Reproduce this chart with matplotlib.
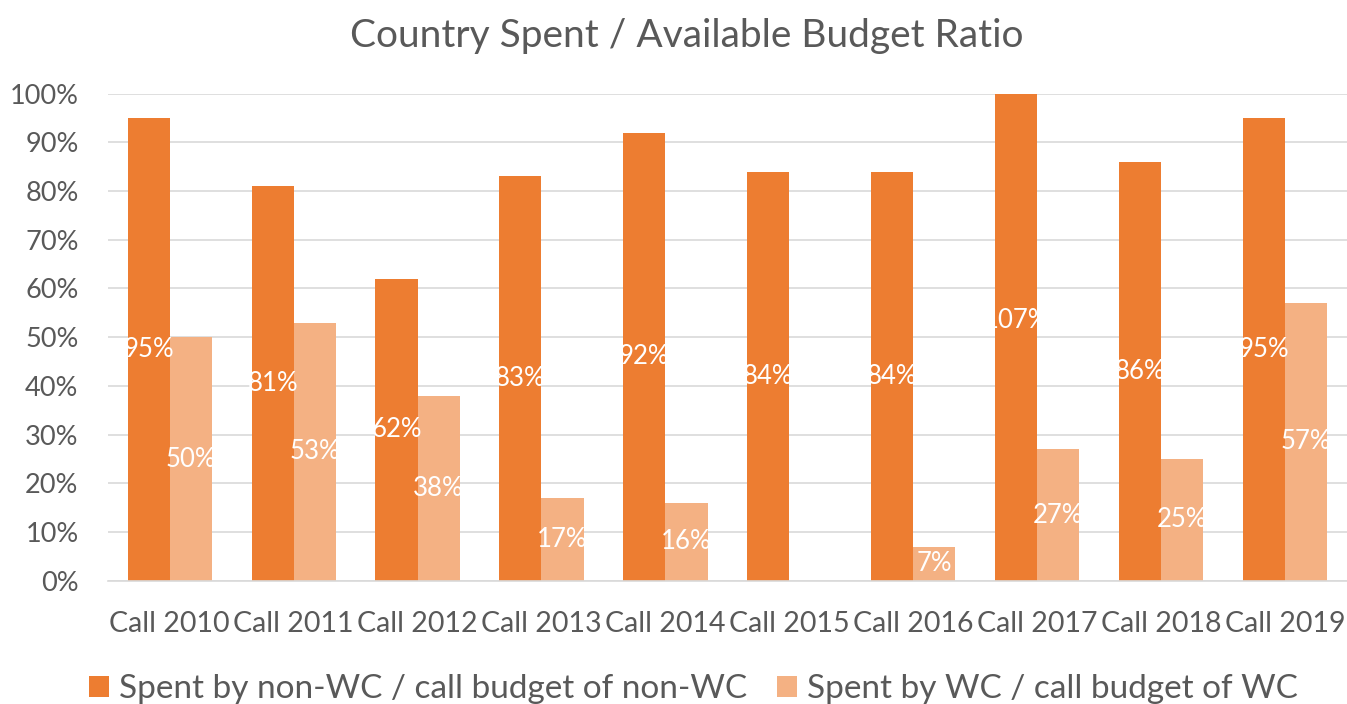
import matplotlib.pyplot as plt
import numpy as np

plt.rcParams['font.family'] = ['Lato', 'DejaVu Sans']

calls = ['Call 2010', 'Call 2011', 'Call 2012', 'Call 2013', 'Call 2014',
         'Call 2015', 'Call 2016', 'Call 2017', 'Call 2018', 'Call 2019']
non_wc = [95, 81, 62, 83, 92, 84, 84, 107, 86, 95]
wc = [50, 53, 38, 17, 16, np.nan, 7, 27, 25, 57]
yticks = [0, 10, 20, 30, 40, 50, 60, 70, 80, 90, 100]

c_dark = '#ED7D31'
c_light = '#F4B183'
txt = '#595959'

fig = plt.figure(figsize=(13.47, 7.04), dpi=100)
ax = fig.add_axes([0.080, 0.175, 0.920, 0.692])

x = np.arange(len(calls))
w = 0.34
b1 = ax.bar(x - w / 2, non_wc, w, color=c_dark, zorder=2,
            label='Spent by non-WC / call budget of non-WC')
b2 = ax.bar(x + w / 2, wc, w, color=c_light, zorder=2,
            label='Spent by WC / call budget of WC')

# data labels in the middle of each bar, white
for bars, vals in [(b1, non_wc), (b2, wc)]:
    for rect, v in zip(bars, vals):
        if np.isnan(v):
            continue
        ax.text(rect.get_x() + rect.get_width() / 2, v / 2, f'{v:.0f}%',
                ha='center', va='center', color='white', fontsize=18.5,
                zorder=3, clip_on=True)

ax.set_ylim(0, 100)
ax.set_xlim(-0.5, len(calls) - 0.5)
ax.set_yticks(yticks)
ax.set_yticklabels([f'{t}%' for t in yticks])
ax.set_xticks(x)
ax.set_xticklabels(calls)
ax.tick_params(axis='both', length=0, colors=txt)
ax.tick_params(axis='y', pad=21, labelsize=19.5)
ax.tick_params(axis='x', pad=22, labelsize=20.5)
ax.grid(axis='y', color='#D9D9D9', linewidth=1.2, zorder=0)
for s in ['top', 'right', 'left']:
    ax.spines[s].set_visible(False)
ax.spines['bottom'].set_color('#D9D9D9')
ax.spines['bottom'].set_linewidth(1.2)

fig.suptitle('Country Spent / Available Budget Ratio', color=txt,
             fontsize=28, x=0.51, y=0.974)
fig.legend(handles=[b1, b2], loc='lower center', ncol=2, frameon=False,
           fontsize=24, labelcolor=txt, handlelength=0.6, handleheight=0.6,
           handletextpad=0.3, columnspacing=0.9, bbox_to_anchor=(0.515, -0.043))

fig.savefig('out.png', dpi=100)
